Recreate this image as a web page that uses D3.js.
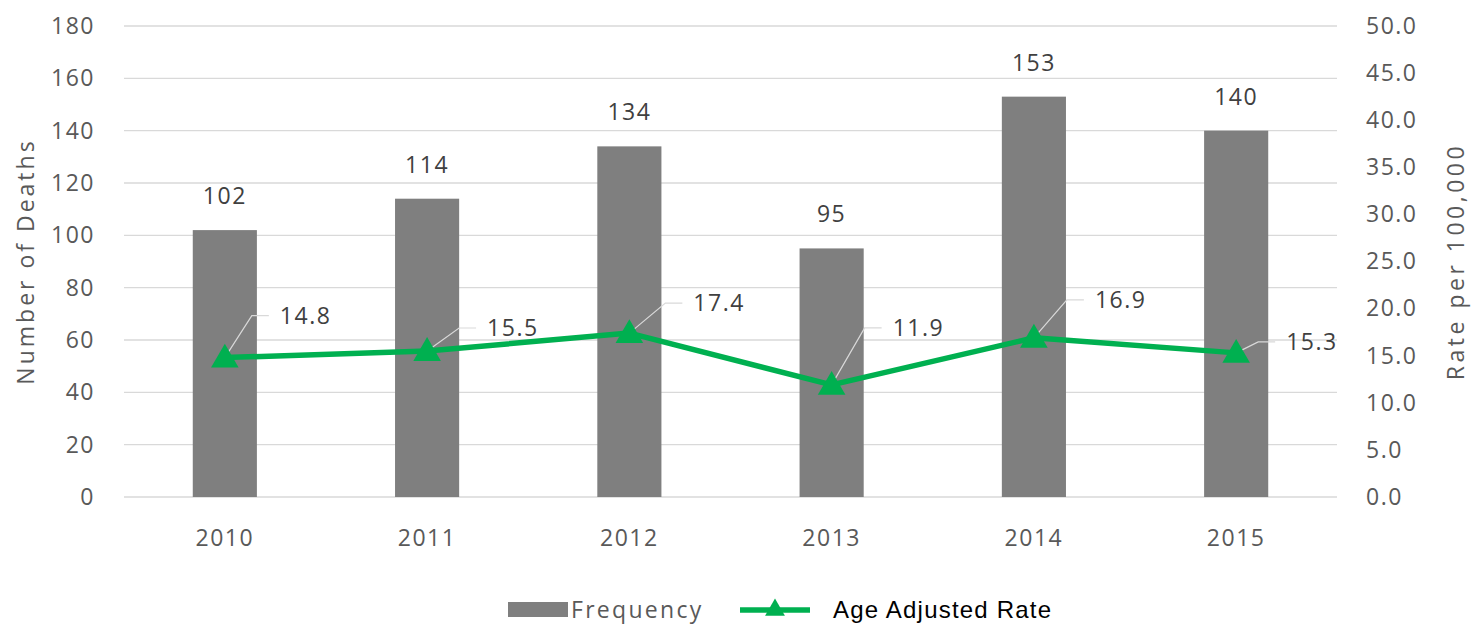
<!DOCTYPE html>
<html>
<head>
<meta charset="utf-8">
<script src="https://cdn.jsdelivr.net/npm/d3@7"></script>
<style>
  body { margin: 0; background: #fff; }
  text { font-family: "Open Sans", "Noto Sans", sans-serif; }
</style>
</head>
<body>
<div id="chart"></div>
<script>
const years = ['2010', '2011', '2012', '2013', '2014', '2015'];
const deaths = [102, 114, 134, 95, 153, 140];
const rates = [14.8, 15.5, 17.4, 11.9, 16.9, 15.3];
const leftTicks = [0, 20, 40, 60, 80, 100, 120, 140, 160, 180];
const rightTicks = [0, 5, 10, 15, 20, 25, 30, 35, 40, 45, 50];

// label offsets (px) for the rate labels, relative to each point
const rateLabelOffsets = [[55, -42], [60, -23], [64, -30], [61, -57], [61, -38], [50, -11]];

const W = 1473, H = 626;
const margin = { top: 26, right: 136, bottom: 129, left: 124 };
const width = W - margin.left - margin.right;
const height = H - margin.top - margin.bottom;

const numStyle = sel => sel
  .attr('fill', '#595959')
  .style('font-size', '23px')
  .style('letter-spacing', '1.5px');

const svg = d3.select('#chart')
  .append('svg')
  .attr('width', W)
  .attr('height', H);

const g = svg.append('g')
  .attr('transform', `translate(${margin.left},${margin.top})`);

const x = d3.scaleBand()
  .domain(years)
  .range([0, width])
  .paddingInner(0.683)
  .paddingOuter(0.34);

const y = d3.scaleLinear().domain([0, 180]).range([height, 0]);
const y2 = d3.scaleLinear().domain([0, 50]).range([height, 0]);

// gridlines
g.append('g')
  .selectAll('line')
  .data(leftTicks)
  .enter().append('line')
  .attr('x1', 0)
  .attr('x2', width)
  .attr('y1', d => y(d))
  .attr('y2', d => y(d))
  .attr('stroke', '#d9d9d9')
  .attr('stroke-width', 1.3);

// left axis
const yAxis = g.append('g')
  .call(d3.axisLeft(y).tickValues(leftTicks).tickSize(0).tickPadding(29));
yAxis.select('.domain').remove();
yAxis.selectAll('text').call(numStyle);

// right axis
const y2Axis = g.append('g')
  .attr('transform', `translate(${width},0)`)
  .call(d3.axisRight(y2).tickValues(rightTicks).tickSize(0).tickPadding(29).tickFormat(d3.format('.1f')));
y2Axis.select('.domain').remove();
y2Axis.selectAll('text').call(numStyle);

// x axis
const xAxis = g.append('g')
  .attr('transform', `translate(0,${height})`)
  .call(d3.axisBottom(x).tickSize(0).tickPadding(33));
xAxis.select('.domain').remove();
xAxis.selectAll('text').call(numStyle);

// bars
g.selectAll('.bar')
  .data(years)
  .enter().append('rect')
  .attr('class', 'bar')
  .attr('x', d => x(d))
  .attr('y', (d, i) => y(deaths[i]))
  .attr('width', x.bandwidth())
  .attr('height', (d, i) => height - y(deaths[i]))
  .attr('fill', '#7f7f7f');

// bar labels
g.selectAll('.bar-label')
  .data(years)
  .enter().append('text')
  .attr('class', 'bar-label')
  .attr('x', d => x(d) + x.bandwidth() / 2)
  .attr('y', (d, i) => y(deaths[i]) - 26)
  .attr('text-anchor', 'middle')
  .call(numStyle)
  .attr('fill', '#404040')
  .text((d, i) => deaths[i]);

// rate line
const cx = d => x(d) + x.bandwidth() / 2;
const line = d3.line()
  .x(d => cx(d))
  .y((d, i) => y2(rates[i]));

// leader lines
g.selectAll('.leader')
  .data(years)
  .enter().append('polyline')
  .attr('class', 'leader')
  .attr('points', (d, i) => {
    const px = cx(d), py = y2(rates[i]);
    const [dx, dy] = rateLabelOffsets[i];
    return `${px},${py} ${px + dx - 28},${py + dy} ${px + dx - 11},${py + dy}`;
  })
  .attr('fill', 'none')
  .attr('stroke', '#d9d9d9')
  .attr('stroke-width', 1.2);

g.append('path')
  .datum(years)
  .attr('d', line)
  .attr('fill', 'none')
  .attr('stroke', '#00b050')
  .attr('stroke-width', 5.5)
  .attr('stroke-linejoin', 'round');

const tri = d3.symbol().type(d3.symbolTriangle).size(330);
g.selectAll('.marker')
  .data(years)
  .enter().append('path')
  .attr('class', 'marker')
  .attr('d', tri)
  .attr('transform', (d, i) => `translate(${cx(d)},${y2(rates[i]) + 2})`)
  .attr('fill', '#00b050');

// rate labels
g.selectAll('.rate-label')
  .data(years)
  .enter().append('text')
  .attr('class', 'rate-label')
  .attr('x', (d, i) => cx(d) + rateLabelOffsets[i][0])
  .attr('y', (d, i) => y2(rates[i]) + rateLabelOffsets[i][1])
  .attr('dy', '0.35em')
  .call(numStyle)
  .attr('fill', '#404040')
  .text((d, i) => d3.format('.1f')(rates[i]));

// axis titles
svg.append('text')
  .attr('transform', `translate(34,${margin.top + height / 2}) rotate(-90)`)
  .attr('text-anchor', 'middle')
  .attr('fill', '#595959')
  .style('font-size', '23px')
  .style('letter-spacing', '3px')
  .text('Number  of Deaths');

svg.append('text')
  .attr('transform', `translate(1464,${margin.top + height / 2}) rotate(-90)`)
  .attr('text-anchor', 'middle')
  .attr('fill', '#595959')
  .style('font-size', '23px')
  .style('letter-spacing', '3.5px')
  .text('Rate per 100,000');

// legend
const legend = svg.append('g');
legend.append('rect')
  .attr('x', 508).attr('y', 602)
  .attr('width', 60).attr('height', 15)
  .attr('fill', '#7f7f7f');
legend.append('text')
  .attr('x', 571).attr('y', 610)
  .attr('dy', '0.35em')
  .attr('fill', '#595959')
  .style('font-size', '23px')
  .style('letter-spacing', '2.3px')
  .text('Frequency');
legend.append('line')
  .attr('x1', 740).attr('x2', 810)
  .attr('y1', 610).attr('y2', 610)
  .attr('stroke', '#00b050')
  .attr('stroke-width', 5.5);
legend.append('path')
  .attr('d', d3.symbol().type(d3.symbolTriangle).size(170))
  .attr('transform', 'translate(775,610)')
  .attr('fill', '#00b050');
legend.append('text')
  .attr('x', 833).attr('y', 610)
  .attr('dy', '0.35em')
  .attr('fill', '#000')
  .style('font-family', '"Liberation Sans", Arial, sans-serif')
  .style('font-size', '24px')
  .style('letter-spacing', '1.2px')
  .text('Age Adjusted Rate');
</script>
</body>
</html>
